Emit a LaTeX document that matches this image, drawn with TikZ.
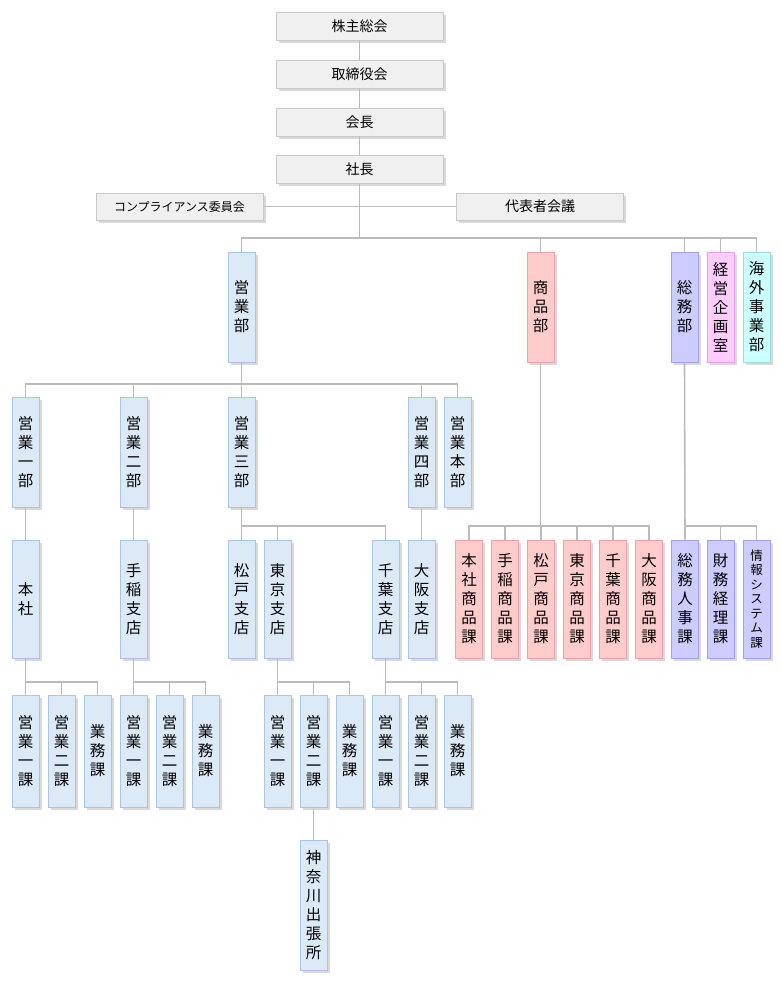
\documentclass[tikz,border=0pt]{standalone}
\usepackage{fontspec}
\setmainfont{Noto Sans CJK JP}
\usetikzlibrary{shadows}
\definecolor{bF}{HTML}{DCE9F7}\definecolor{bD}{HTML}{A9C4E6}
\definecolor{pF}{HTML}{FFCCCC}\definecolor{pD}{HTML}{F0A0A0}
\definecolor{vF}{HTML}{CCCCFF}\definecolor{vD}{HTML}{A0A0EE}
\definecolor{mF}{HTML}{FFCCFF}\definecolor{mD}{HTML}{E8A0E8}
\definecolor{cF}{HTML}{CCFFFF}\definecolor{cD}{HTML}{9ED8E0}
\definecolor{gF}{HTML}{F0F0F0}\definecolor{gD}{HTML}{C8C8C8}
\definecolor{ln}{HTML}{BBBBBB}
\begin{document}
\begin{tikzpicture}[x=1pt,y=-1pt,
 bx/.style={draw, line width=0.8pt, inner sep=0pt, drop shadow={shadow xshift=2.5pt,shadow yshift=-2.5pt,fill=black!25,opacity=0.6}},
 h/.style={bx, fill=gF, draw=gD, minimum width=167pt, minimum height=28pt, font=\fontsize{14}{16}\selectfont},
 v/.style={bx, minimum width=27pt, align=center, font=\fontsize{15.5}{19}\selectfont},
 b/.style={v, fill=bF, draw=bD}, p/.style={v, fill=pF, draw=pD}, u/.style={v, fill=vF, draw=vD},
 L1/.style={minimum height=110pt}, L3/.style={minimum height=118pt}, L4/.style={minimum height=112pt},
 every path/.style={}, cn/.style={draw=ln, line width=1.6pt}]
\useasboundingbox (0,0) rectangle (781,985);
% top
\node[h] (kabu) at (359.5,26.5) {株主総会};
\node[h] (tori) at (359.5,74.5) {取締役会};
\node[h] (kaicho) at (359.5,122) {会長};
\node[h] (shacho) at (359.5,169.5) {社長};
\node[h, minimum height=27pt, font=\fontsize{12}{14}\selectfont] (comp) at (179.5,206.5) {コンプライアンス委員会};
\node[h, minimum height=27pt] (daihyo) at (540,206.5) {代表者会議};
% level1
\node[b,L1] (eig) at (241.5,307) {営\\業\\部};
\node[p,L1] (sho) at (540.5,307) {商\\品\\部};
\node[u,L1] (som) at (684.5,307) {総\\務\\部};
\node[v,L1,fill=mF,draw=mD] (kei) at (720.5,307) {経\\営\\企\\画\\室};
\node[v,L1,fill=cF,draw=cD] (kai) at (756.5,307) {海\\外\\事\\業\\部};
% level2
\node[b,L1] (e1) at (25.5,452) {営\\業\\一\\部};
\node[b,L1] (e2) at (133.5,452) {営\\業\\二\\部};
\node[b,L1] (e3) at (241.5,452) {営\\業\\三\\部};
\node[b,L1] (e4) at (421.5,452) {営\\業\\四\\部};
\node[b,L1] (eh) at (457.5,452) {営\\業\\本\\部};
% level3
\node[b,L3] (honsha) at (25.5,599) {本\\社};
\node[b,L3] (teine) at (133.5,599) {手\\稲\\支\\店};
\node[b,L3] (matsudo) at (241.5,599) {松\\戸\\支\\店};
\node[b,L3] (tokyo) at (277.5,599) {東\\京\\支\\店};
\node[b,L3] (chiba) at (385.5,599) {千\\葉\\支\\店};
\node[b,L3] (osaka) at (421.5,599) {大\\阪\\支\\店};
\node[p,L3] (s1) at (469,599) {本\\社\\商\\品\\課};
\node[p,L3] (s2) at (505,599) {手\\稲\\商\\品\\課};
\node[p,L3] (s3) at (541,599) {松\\戸\\商\\品\\課};
\node[p,L3] (s4) at (577,599) {東\\京\\商\\品\\課};
\node[p,L3] (s5) at (613,599) {千\\葉\\商\\品\\課};
\node[p,L3] (s6) at (649,599) {大\\阪\\商\\品\\課};
\node[u,L3] (g1) at (685,599) {総\\務\\人\\事\\課};
\node[u,L3] (g2) at (720.5,599) {財\\務\\経\\理\\課};
\node[u,L3,font=\fontsize{12.5}{14.5}\selectfont] (g3) at (756.5,599) {情\\報\\シ\\ス\\テ\\ム\\課};
% level4
\foreach \n/\x/\t in {a1/25.5/{営\\業\\一\\課},a2/61.5/{営\\業\\二\\課},a3/97.5/{業\\務\\課},
 b1/133.5/{営\\業\\一\\課},b2/169.5/{営\\業\\二\\課},b3/205.5/{業\\務\\課},
 c1/277.5/{営\\業\\一\\課},c2/313.5/{営\\業\\二\\課},c3/349.5/{業\\務\\課},
 d1/385.5/{営\\業\\一\\課},d2/421.5/{営\\業\\二\\課},d3/457.5/{業\\務\\課}}
 \node[b,L4] (\n) at (\x,751) {\t};
\node[b,minimum height=130pt] (kana) at (313.5,905) {神\\奈\\川\\出\\張\\所};
% connectors
\draw[cn] (kabu) -- (tori); \draw[cn] (tori) -- (kaicho); \draw[cn] (kaicho) -- (shacho);
\draw[cn] (comp.east) -- (daihyo.west);
\draw[cn] (shacho.south) -- (shacho.south |- 0,238);
\draw[cn] (eig.north) |- (kai.north |- 0,238) -- (kai.north);
\foreach \n in {sho,som,kei} \draw[cn] (\n.north) -- (\n.north |- 0,238);
\draw[cn] (eig.south) -- (eig.south |- 0,384);
\draw[cn] (e1.north) |- (eh.north |- 0,384) -- (eh.north);
\foreach \n in {e2,e3,e4} \draw[cn] (\n.north) -- (\n.north |- 0,384);
\draw[cn] (e1) -- (honsha); \draw[cn] (e2) -- (teine); \draw[cn] (e4) -- (osaka);
\draw[cn] (e3.south) -- (matsudo.north);
\draw[cn] (e3.south |- 0,526) -| (chiba.north);
\draw[cn] (tokyo.north) -- (tokyo.north |- 0,526);
\draw[cn] (sho.south) -- (sho.south |- 0,526);
\draw[cn] (s1.north) |- (s6.north |- 0,526) -- (s6.north);
\foreach \n in {s2,s3,s4,s5} \draw[cn] (\n.north) -- (\n.north |- 0,526);
\draw[cn] (som.south) -- (g1.north);
\draw[cn] (g1.north |- 0,526) -| (g3.north);
\draw[cn] (g2.north) -- (g2.north |- 0,526);
\foreach \p/\l/\m/\r in {honsha/a1/a2/a3,teine/b1/b2/b3,tokyo/c1/c2/c3,chiba/d1/d2/d3}{
 \draw[cn] (\p.south) -- (\l.north);
 \draw[cn] (\l.north |- 0,682) -| (\r.north);
 \draw[cn] (\m.north) -- (\m.north |- 0,682);}
\draw[cn] (c2) -- (kana);
\end{tikzpicture}
\end{document}
